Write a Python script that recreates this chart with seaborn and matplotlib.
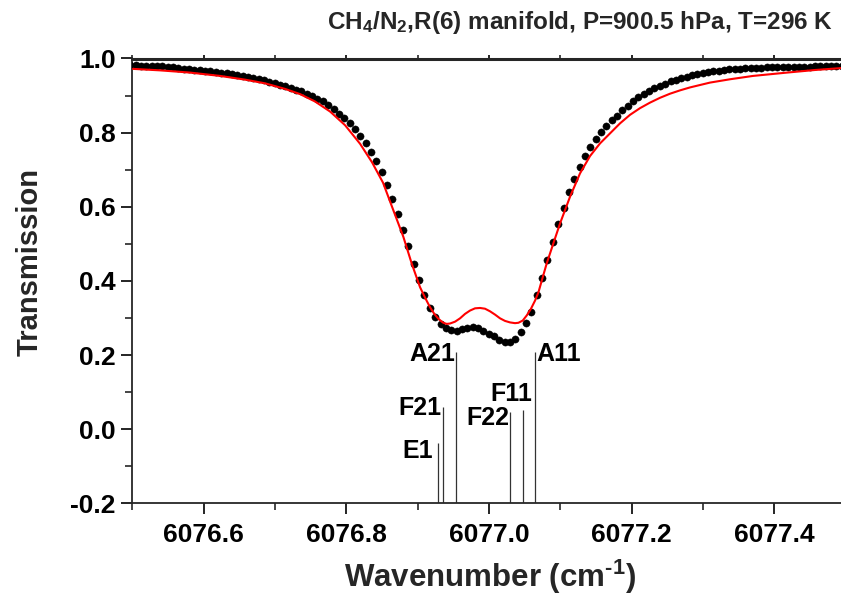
import numpy as np
import pandas as pd
import matplotlib
matplotlib.use("Agg")
import matplotlib.pyplot as plt
import seaborn as sns

# ---------------- data ----------------
# measured transmission (black dots), uniform sampling grid
meas_start = 6076.497
meas_step = 0.0075
meas_T = [
    0.982, 0.982, 0.981, 0.980, 0.980, 0.979, 0.979, 0.977, 0.976, 0.975,
    0.973, 0.971, 0.969, 0.968, 0.966, 0.965, 0.963, 0.962, 0.960, 0.958,
    0.956, 0.953, 0.950, 0.947, 0.944, 0.941, 0.937, 0.933, 0.929, 0.925,
    0.921, 0.916, 0.911, 0.905, 0.899, 0.892, 0.884, 0.875, 0.863, 0.851,
    0.839, 0.826, 0.809, 0.791, 0.773, 0.749, 0.724, 0.693, 0.659, 0.621,
    0.580, 0.537, 0.493, 0.446, 0.402, 0.362, 0.328, 0.302, 0.284, 0.273,
    0.268, 0.266, 0.270, 0.274, 0.276, 0.273, 0.266, 0.258, 0.251, 0.241,
    0.234, 0.236, 0.243, 0.262, 0.287, 0.317, 0.363, 0.408, 0.457, 0.504,
    0.553, 0.597, 0.640, 0.675, 0.707, 0.737, 0.761, 0.782, 0.801, 0.819,
    0.833, 0.846, 0.860, 0.873, 0.886, 0.895, 0.904, 0.912, 0.920, 0.926,
    0.932, 0.938, 0.943, 0.947, 0.951, 0.955, 0.958, 0.960, 0.963, 0.965,
    0.967, 0.969, 0.971, 0.972, 0.973, 0.974, 0.974, 0.975, 0.975, 0.976,
    0.976, 0.976, 0.977, 0.977, 0.977, 0.978, 0.978, 0.978, 0.979, 0.979,
    0.979, 0.980, 0.980, 0.980,
]
meas_wn = meas_start + meas_step * np.arange(len(meas_T))

# model (red line)
model_wn = [
    6076.5009, 6076.5387, 6076.5808, 6076.6229, 6076.6579, 6076.6860, 6076.7140,
    6076.7350, 6076.7561, 6076.7771, 6076.7982, 6076.8192, 6076.8360, 6076.8514,
    6076.8658, 6076.8799, 6076.8916, 6076.9033, 6076.9103, 6076.9173, 6076.9233,
    6076.9290, 6076.9332, 6076.9360, 6076.9407, 6076.9453, 6076.9524, 6076.9594,
    6076.9664, 6076.9734, 6076.9804, 6076.9874, 6076.9944, 6077.0014, 6077.0085,
    6077.0155, 6077.0225, 6077.0295, 6077.0365, 6077.0412, 6077.0473, 6077.0530,
    6077.0586, 6077.0646, 6077.0693, 6077.0740, 6077.0809, 6077.0902, 6077.0996,
    6077.1136, 6077.1276, 6077.1417, 6077.1557, 6077.1697, 6077.1837, 6077.1977,
    6077.2117, 6077.2258, 6077.2398, 6077.2538, 6077.2678, 6077.2819, 6077.3099,
    6077.3380, 6077.3702, 6077.4179, 6077.4572, 6077.5000,
]
model_T = [
    0.972, 0.968, 0.962, 0.953, 0.943, 0.933, 0.918,
    0.904, 0.884, 0.857, 0.820, 0.770, 0.720, 0.665,
    0.591, 0.519, 0.447, 0.383, 0.355, 0.329, 0.311,
    0.298, 0.291, 0.287, 0.284, 0.285, 0.290, 0.299,
    0.311, 0.320, 0.326, 0.327, 0.325, 0.318, 0.309,
    0.299, 0.292, 0.288, 0.286, 0.287, 0.293, 0.307,
    0.324, 0.347, 0.369, 0.401, 0.447, 0.501, 0.555,
    0.627, 0.690, 0.737, 0.771, 0.798, 0.825, 0.848,
    0.866, 0.881, 0.894, 0.905, 0.914, 0.922, 0.935,
    0.944, 0.953, 0.962, 0.969, 0.975,
]

# line positions / intensities (sticks)
line_names = ["E1", "F21", "A21", "F22", "F11", "A11"]
line_wn = [6076.929, 6076.936, 6076.954, 6077.029, 6077.047, 6077.065]
line_top = [-0.036, 0.060, 0.209, 0.045, 0.052, 0.209]

title = r"CH$_4$/N$_2$,R(6) manifold, P=900.5 hPa, T=296 K"
xlabel = r"Wavenumber (cm$^{\text{-}1}$)"
ylabel = "Transmission"
xticks = [6076.6, 6076.8, 6077.0, 6077.2, 6077.4]
xticklabels = ["6076.6", "6076.8", "6077.0", "6077.2", "6077.4"]
yticks = [-0.2, 0.0, 0.2, 0.4, 0.6, 0.8, 1.0]
yticklabels = ["-0.2", "0.0", "0.2", "0.4", "0.6", "0.8", "1.0"]

# ---------------- style ----------------
sns.set_style("ticks")
plt.rcParams["font.family"] = ["Liberation Sans", "DejaVu Sans"]
plt.rcParams["font.weight"] = "bold"
plt.rcParams["mathtext.fontset"] = "custom"
plt.rcParams["mathtext.rm"] = "Liberation Sans:bold"
plt.rcParams["mathtext.it"] = "Liberation Sans:bold"
plt.rcParams["mathtext.bf"] = "Liberation Sans:bold"
plt.rcParams["mathtext.default"] = "bf"

fig = plt.figure(figsize=(8.41, 5.95), dpi=100)
L, R, B, T = 132.4, 845.6, 503.3, 58.5
ax = fig.add_axes([L / 841, 1 - B / 595, (R - L) / 841, (B - T) / 595])

meas_df = pd.DataFrame({"wn": meas_wn, "T": meas_T})
model_df = pd.DataFrame({"wn": model_wn, "T": model_T})

# sticks
ax.vlines(line_wn, -0.2, line_top, colors="#333333", linewidth=0.9, zorder=1)

sns.scatterplot(data=meas_df, x="wn", y="T", ax=ax, color="black", s=27,
                edgecolor="black", linewidth=0.3, zorder=3, legend=False)
sns.lineplot(data=model_df, x="wn", y="T", ax=ax, color="#ff0000", linewidth=1.5,
             sort=False, zorder=4, legend=False)

# stick labels
offsets = {"E1": (-5, -8, "right"), "F21": (-2, -1, "right"), "A21": (-1, -2, "right"),
           "F22": (-0.6, -6, "right"), "F11": (10, 16, "right"), "A11": (1.5, -2, "left")}
for name, wn, top in zip(line_names, line_wn, line_top):
    dx, dy, ha = offsets[name]
    ax.annotate(name, (wn, top), xytext=(dx * 0.72, dy * 0.72), textcoords="offset points",
                ha=ha, va="center", fontsize=18, fontweight="bold", color="black")

ax.set_xlim(6076.5, 6077.5)
ax.set_ylim(-0.2, 1.0)
ax.set_xticks(xticks)
ax.set_xticklabels(xticklabels)
ax.set_yticks(yticks)
ax.set_yticklabels(yticklabels)
ax.set_xticks(np.arange(6076.5, 6077.51, 0.1), minor=True)
ax.set_yticks(np.arange(-0.1, 1.0, 0.2), minor=True)
ax.tick_params(axis="both", which="major", direction="out", length=8, width=1.2,
               labelsize=19, pad=4, colors="black")
ax.tick_params(axis="both", which="minor", direction="out", length=5, width=1.2)
ax.tick_params(axis="x", which="both", top=True)
ax.tick_params(axis="x", which="major", pad=6)
for lab in ax.get_xticklabels() + ax.get_yticklabels():
    lab.set_fontweight("bold")
# short ticks on the top spine
for t in ax.xaxis.get_major_ticks() + ax.xaxis.get_minor_ticks():
    t.tick2line.set_markersize(3)

ax.spines["right"].set_visible(False)
ax.spines["top"].set_linewidth(2.2)
ax.spines["left"].set_linewidth(1.3)
ax.spines["bottom"].set_linewidth(1.3)

ax.set_xlabel(xlabel, fontsize=22.5, fontweight="bold")
ax.xaxis.set_label_coords((490 - L) / (R - L), -(577 - B) / (B - T))
ax.set_ylabel(ylabel, fontsize=21, fontweight="bold")
ax.yaxis.set_label_coords((30 - L) / (R - L), (B - 262) / (B - T))
ax.xaxis.label.set_va("center")
ax.yaxis.label.set_va("center")

fig.text(833 / 841, 1 - 22 / 595, title, ha="right", va="center",
         fontsize=17.5, fontweight="bold")

fig.savefig("out.png", dpi=100)
